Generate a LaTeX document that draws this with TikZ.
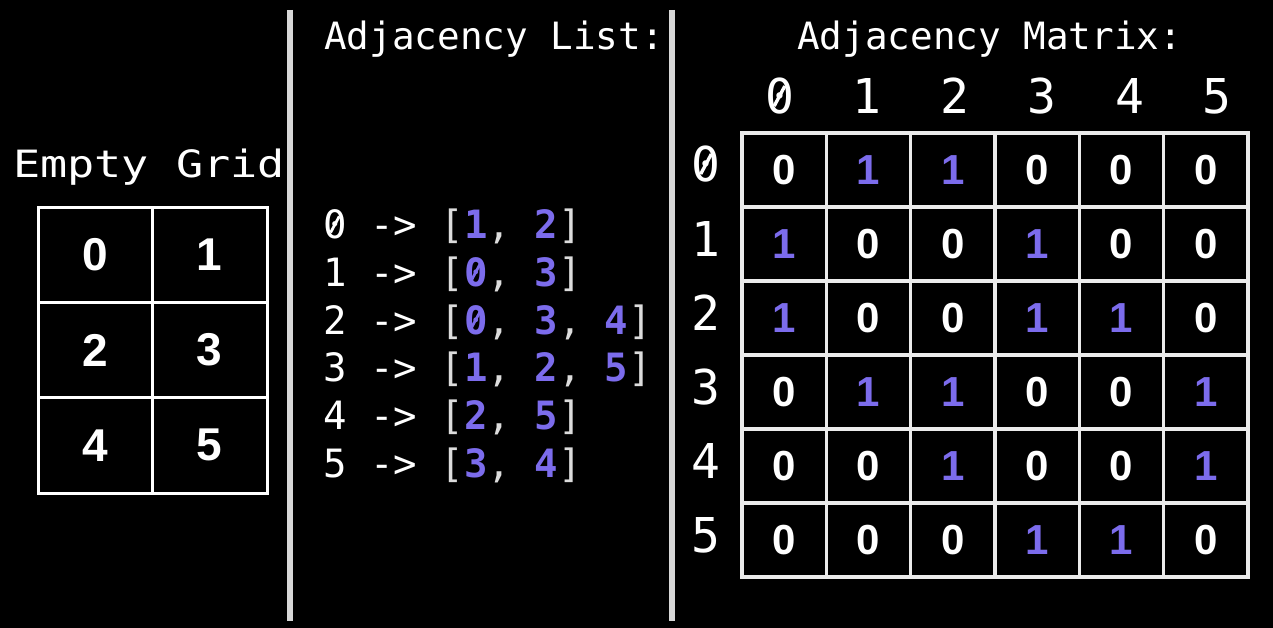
\documentclass[tikz,border=0pt]{standalone}
\usepackage{fontspec}
\usepackage{graphicx}
\newfontfamily\monof{DejaVu Sans Mono}
\newfontfamily\digf{Liberation Sans}
\definecolor{purp}{RGB}{124,108,236}
\definecolor{brk}{RGB}{220,220,220}
\definecolor{chalk}{RGB}{215,215,215}
\newcommand\pn[1]{{\bfseries\color{purp}#1}}
\newcommand\bk[1]{{\color{brk}#1}}
% slashed zero (Menlo style): a zero with a thin rotated rule across it
\newcommand\sz{\ooalign{0\cr\hidewidth\raisebox{0.15em}{\rotatebox{62}{\rule{0.47em}{0.07em}}}\hidewidth\cr}}
\tikzset{
  title/.style={anchor=base west, text=white, inner sep=0pt, font=\monof\fontsize{37.6}{40}\selectfont},
  listline/.style={anchor=base west, text=white, inner sep=0pt, font=\monof\fontsize{39}{42}\selectfont},
  axislabel/.style={anchor=base, text=white, inner sep=0pt, font=\monof\fontsize{48}{50}\selectfont},
  gridcell/.style={draw=white, line width=3pt, minimum width=114.5pt, minimum height=95.33pt, inner sep=0pt, text=white, font=\digf\bfseries\fontsize{46}{48}\selectfont},
  mcell/.style={draw=white!92!black, line width=3.5pt, minimum width=84.33pt, minimum height=74pt, inner sep=0pt, font=\digf\bfseries\fontsize{42}{44}\selectfont},
  v0/.style={text=white},
  v1/.style={text=purp},
  divider/.style={line width=6pt, draw=chalk}
}
\begin{document}
\begin{tikzpicture}[x=1pt,y=-1pt]
\useasboundingbox (0,0) rectangle (1273,628);
\fill[black] (0,0) rectangle (1273,628);

% dividers
\coordinate (d1t) at (290,10);
\coordinate (d1b) at (290,621);
\coordinate (d2t) at (672,10);
\coordinate (d2b) at (672,621);
\draw[divider] (d1t) -- (d1b);
\draw[divider] (d2t) -- (d2b);

% Empty grid
\node[anchor=base west, inner sep=0pt, text=white] (gtitle) at (13,178)
  {\scalebox{1.2}[1]{\monof\fontsize{37.6}{40}\selectfont Empty Grid}};
\foreach \n in {0,...,5} {
  \pgfmathsetmacro\gx{95.25+114.5*mod(\n,2)}
  \pgfmathsetmacro\gy{254.7+95.33*floor(\n/2)}
  \node[gridcell] (g\n) at (\gx,\gy) {\n};
}

% Adjacency list
\node[title] (ltitle) at (324,50) {Adjacency List:};
\node[listline] (l0) at (323,239) {\sz{} -> \bk{[}\pn{1}\bk{,} \pn{2}\bk{]}};
\node[listline] (l1) at (323,286.6) {1 -> \bk{[}\pn{\sz}\bk{,} \pn{3}\bk{]}};
\node[listline] (l2) at (323,334.2) {2 -> \bk{[}\pn{\sz}\bk{,} \pn{3}\bk{,} \pn{4}\bk{]}};
\node[listline] (l3) at (323,381.8) {3 -> \bk{[}\pn{1}\bk{,} \pn{2}\bk{,} \pn{5}\bk{]}};
\node[listline] (l4) at (323,429.4) {4 -> \bk{[}\pn{2}\bk{,} \pn{5}\bk{]}};
\node[listline] (l5) at (323,477) {5 -> \bk{[}\pn{3}\bk{,} \pn{4}\bk{]}};

% Adjacency matrix
\node[title] (mtitle) at (797,50) {Adjacency Matrix:};
\node[axislabel] (c0) at (779.5,114) {\sz};
\node[axislabel] (r0) at (706,182) {\sz};
\foreach \k in {1,...,5} {
  \node[axislabel] (c\k) at (779.5+87.5*\k,114) {\k};
  \node[axislabel] (r\k) at (706,182+74*\k) {\k};
}
\foreach \row [count=\r from 0] in {{0,1,1,0,0,0},{1,0,0,1,0,0},{1,0,0,1,1,0},{0,1,1,0,0,1},{0,0,1,0,0,1},{0,0,0,1,1,0}} {
  \foreach \v [count=\c from 0] in \row {
    \node[mcell, v\v] (m\r\c) at (784.17+84.33*\c,170+74*\r) {\v};
  }
}
\end{tikzpicture}
\end{document}
